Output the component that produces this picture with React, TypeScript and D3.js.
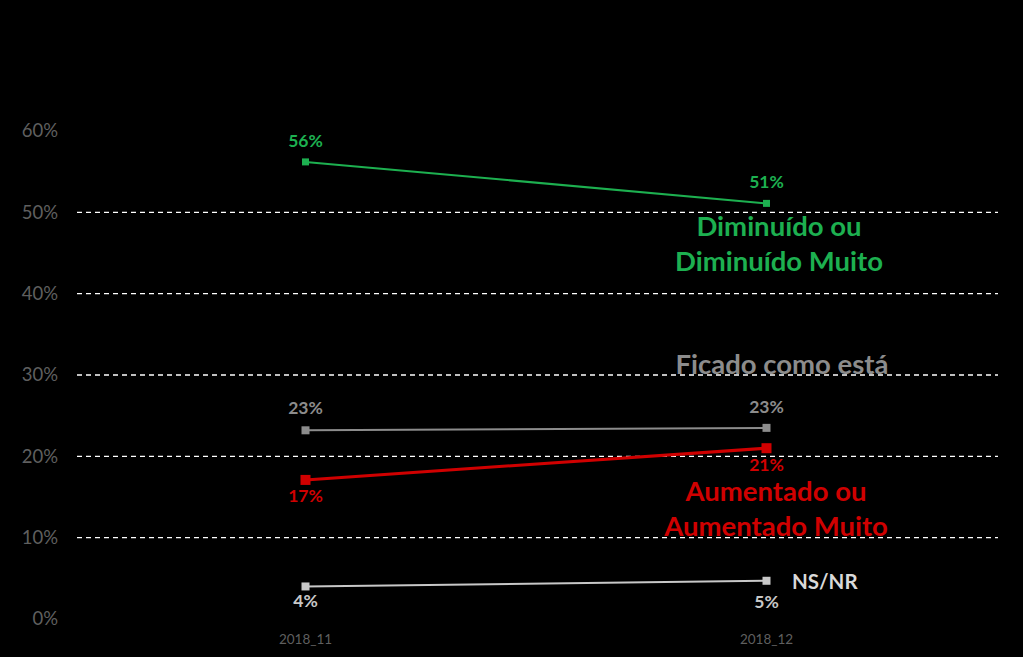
import React from "react";
import * as d3 from "d3";

const categories = ["2018_11", "2018_12"];
const yTicks = [0, 10, 20, 30, 40, 50, 60];
const gridTicks = [10, 20, 30, 40, 50];

const diminuido = [56.2, 51.1];
const ficado = [23.2, 23.5];
const aumentado = [17.1, 21.0];
const nsnr = [4.0, 4.7];

const diminuidoLabels = ["56%", "51%"];
const ficadoLabels = ["23%", "23%"];
const aumentadoLabels = ["17%", "21%"];
const nsnrLabels = ["4%", "5%"];

const W = 1023;
const H = 657;
const FONT = "Lato, 'Open Sans', sans-serif";

export default function App() {
  const x = d3.scalePoint<string>().domain(categories).range([75, 997]).padding(0.5);
  const y = d3.scaleLinear().domain([0, 60]).range([619, 131]);
  const line = d3
    .line<number>()
    .x((_, i) => x(categories[i]) as number)
    .y((d) => y(d));

  const series = [
    { values: diminuido, labels: diminuidoLabels, color: "#1DB050", width: 2, marker: 7, dy: [-15, -15] },
    { values: ficado, labels: ficadoLabels, color: "#8C8C8C", width: 2, marker: 8, dy: [-16, -15] },
    { values: aumentado, labels: aumentadoLabels, color: "#D00000", width: 3, marker: 10, dy: [22, 23] },
    { values: nsnr, labels: nsnrLabels, color: "#C8C8C8", width: 2, marker: 8, dy: [21, 27] },
  ];

  const big = 27.5;

  return (
    <svg
      width={W}
      height={H}
      style={{ position: "absolute", left: 0, top: 0, background: "#000" }}
      fontFamily={FONT}
    >
      <rect width={W} height={H} fill="#000" />
      {yTicks.map((t) => (
        <text
          key={t}
          x={58}
          y={y(t)}
          dy="0.35em"
          textAnchor="end"
          fill="#5f5f5f"
          fontSize={18.5}
        >
          {t}%
        </text>
      ))}
      {categories.map((c) => (
        <text key={c} x={x(c)} y={644} textAnchor="middle" fill="#5f5f5f" fontSize={13.5}>
          {c}
        </text>
      ))}

      {/* series labels */}
      <text x={779} y={236} textAnchor="middle" fill="#1DB050" fontSize={big} fontWeight="bold">
        Diminuído ou
      </text>
      <text x={779} y={271} textAnchor="middle" fill="#1DB050" fontSize={big} fontWeight="bold">
        Diminuído Muito
      </text>
      <text x={782} y={374} textAnchor="middle" fill="#8C8C8C" fontSize={big} fontWeight="bold">
        Ficado como está
      </text>
      <text x={776} y={501} textAnchor="middle" fill="#D00000" fontSize={big} fontWeight="bold">
        Aumentado ou
      </text>
      <text x={776} y={536} textAnchor="middle" fill="#D00000" fontSize={big} fontWeight="bold">
        Aumentado Muito
      </text>
      <text x={792} y={589} fill="#D9D9D9" fontSize={20.5} fontWeight="bold">
        NS/NR
      </text>

      {gridTicks.map((t) => (
        <line
          key={t}
          x1={77}
          x2={998}
          y1={y(t)}
          y2={y(t)}
          stroke="#ffffff"
          strokeWidth={1.3}
          strokeDasharray="5,4"
        />
      ))}

      {series.map((s, si) => (
        <g key={si}>
          <path d={line(s.values) || ""} fill="none" stroke={s.color} strokeWidth={s.width} />
          {s.values.map((v, i) => (
            <rect
              key={i}
              x={(x(categories[i]) as number) - s.marker / 2}
              y={y(v) - s.marker / 2}
              width={s.marker}
              height={s.marker}
              fill={s.color}
            />
          ))}
          {s.values.map((v, i) => (
            <text
              key={"l" + i}
              x={x(categories[i])}
              y={y(v) + s.dy[i]}
              textAnchor="middle"
              fill={s.color}
              fontSize={17.5}
              fontWeight="bold"
            >
              {s.labels[i]}
            </text>
          ))}
        </g>
      ))}
    </svg>
  );
}
